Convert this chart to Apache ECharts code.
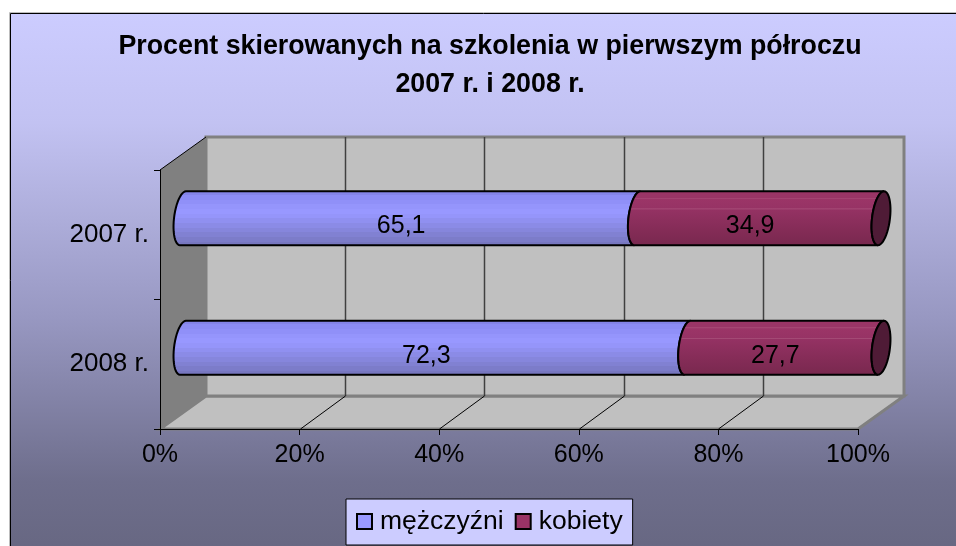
<!DOCTYPE html>
<html>
<head>
<meta charset="utf-8">
<title>Procent skierowanych na szkolenia</title>
<script src="https://cdn.jsdelivr.net/npm/echarts@6/dist/echarts.min.js"></script>
<style>
html, body { margin: 0; padding: 0; background: #fff; }
#chart { width: 956px; height: 546px; }
</style>
</head>
<body>
<div id="chart"></div>
<script>
const titleText = 'Procent skierowanych na szkolenia w pierwszym półroczu\n2007 r. i 2008 r.';
const categories = ['2007 r.', '2008 r.'];
const menName = 'mężczyźni';
const womenName = 'kobiety';
const menValues = [65.1, 72.3];
const womenValues = [34.9, 27.7];
const percentTicks = [0, 20, 40, 60, 80, 100];

// fake 3d box, the depth of the chart in pixels
const depthX = 46;
const depthY = -33;
const font = '"Liberation Sans", Arial, sans-serif';

function vertical(colorStops) {
    return { type: 'linear', x: 0, y: 0, x2: 0, y2: 1, colorStops: colorStops };
}

function bandStops(colors) {
    const stops = [];
    colors.forEach((c, i) => {
        stops.push({ offset: i / colors.length, color: c });
        stops.push({ offset: (i + 1) / colors.length, color: c });
    });
    return vertical(stops);
}

const menFill = bandStops(['#8484e8', '#8c8cf4', '#9090f8', '#9595fc', '#9898ff', '#9595fa', '#9090f0', '#8b8be6', '#8686dc', '#8181d2', '#7c7cc9', '#7777c0']);
const womenFill = vertical([
    { offset: 0, color: '#9a3566' },
    { offset: 0.13, color: '#9a3566' },
    { offset: 0.14, color: '#a84a76' },
    { offset: 0.16, color: '#9b3567' },
    { offset: 0.32, color: '#973365' },
    { offset: 0.33, color: '#a8507a' },
    { offset: 0.35, color: '#943263' },
    { offset: 0.65, color: '#872d59' },
    { offset: 1, color: '#78284e' }
]);
const capFill = '#4f1b36';

// tilted ellipse, half = -1 for the left side, 1 for the right side
function capPoints(cx, cy, ry, half) {
    const points = [];
    const rx = 9;
    const skew = -3;
    for (let i = 0; i <= 24; i++) {
        const t = half < 0 ? Math.PI * 1.5 - Math.PI * i / 24 : -Math.PI / 2 + Math.PI * i / 24;
        points.push([cx + rx * Math.cos(t) + skew * Math.sin(t), cy + ry * Math.sin(t)]);
    }
    return points;
}

function renderSegment(hasCap) {
    return function (params, api) {
        const start = api.coord([api.value(0), api.value(1)]);
        const end = api.coord([api.value(2), api.value(1)]);
        const ry = api.size([0, 1])[1] * 0.208;
        const x0 = start[0] + depthX / 2;
        const x1 = end[0] + depthX / 2;
        const cy = start[1] + depthY / 2;
        // left side of the start, then left side of the end walked backwards
        const points = capPoints(x0, cy, ry, -1).concat(capPoints(x1, cy, ry, -1).reverse());
        const children = [{
            type: 'polygon',
            shape: { points: points },
            style: { fill: hasCap ? womenFill : menFill, stroke: '#000', lineWidth: 2 }
        }];
        if (hasCap) {
            children.push({
                type: 'polygon',
                shape: { points: capPoints(x1, cy, ry, -1).concat(capPoints(x1, cy, ry, 1).reverse()) },
                style: { fill: capFill, stroke: '#000', lineWidth: 2 }
            });
        }
        children.push({
            type: 'text',
            x: (x0 + x1) / 2 - 9,
            y: cy + 8,
            style: {
                text: String(api.value(3)).replace('.', ','),
                fill: '#000',
                font: '25px ' + font,
                align: 'center',
                verticalAlign: 'middle'
            }
        });
        return { type: 'group', children: children };
    };
}

function renderBox(params, api) {
    const sys = params.coordSys;
    const left = sys.x, right = sys.x + sys.width;
    const top = sys.y, bottom = sys.y + sys.height;
    const children = [
        {
            type: 'polygon',
            shape: { points: [[left, top], [left + depthX, top + depthY], [left + depthX, bottom + depthY], [left, bottom]] },
            style: { fill: '#808080' }
        },
        {
            type: 'polygon',
            shape: { points: [[left, bottom], [left + depthX, bottom + depthY], [right + depthX, bottom + depthY], [right, bottom]] },
            style: { fill: '#c0c0c0', stroke: '#808080', lineWidth: 3 }
        },
        {
            type: 'rect',
            shape: { x: left + depthX, y: top + depthY, width: sys.width, height: sys.height },
            style: { fill: '#c0c0c0', stroke: '#808080', lineWidth: 3 }
        },
        {
            type: 'line',
            shape: { x1: left, y1: top, x2: left + depthX, y2: top + depthY },
            style: { stroke: '#000', lineWidth: 1 }
        }
    ];
    percentTicks.slice(1, -1).forEach(tick => {
        const x = Math.round(api.coord([tick, 0])[0]) + 0.5;
        children.push({
            type: 'line',
            shape: { x1: x + depthX - 1, y1: top + depthY, x2: x + depthX - 1, y2: bottom + depthY },
            style: { stroke: '#404040', lineWidth: 1.5 }
        });
        children.push({
            type: 'line',
            shape: { x1: x, y1: bottom, x2: x + depthX - 1, y2: bottom + depthY },
            style: { stroke: '#000', lineWidth: 1 }
        });
    });
    return { type: 'group', children: children };
}

const chart = echarts.init(document.getElementById('chart'), null, { renderer: 'canvas' });

chart.setOption({
    animation: false,
    backgroundColor: '#fff',
    graphic: [
        {
            type: 'rect',
            z: -11,
            shape: { x: 9.5, y: 12.5, width: 960, height: 550 },
            style: { fill: '#fff', stroke: '#bdbdbd', lineWidth: 1 }
        },
        {
            type: 'rect',
            z: -10,
            shape: { x: 10.5, y: 13.5, width: 960, height: 550 },
            style: {
                fill: vertical([
                    { offset: 0, color: '#ccccff' },
                    { offset: 0.2, color: '#c2c2f2' },
                    { offset: 0.55, color: '#9898c2' },
                    { offset: 0.85, color: '#6e6e8c' },
                    { offset: 1, color: '#666680' }
                ]),
                stroke: '#000',
                lineWidth: 1
            }
        }
    ],
    title: {
        text: titleText,
        left: 485,
        top: 23,
        textAlign: 'center',
        textStyle: { fontFamily: font, fontSize: 26.8, fontWeight: 'bold', color: '#000', lineHeight: 38 }
    },
    legend: {
        data: [menName, womenName],
        left: 346,
        top: 499,
        padding: [9, 10, 10, 10],
        itemGap: 11,
        itemWidth: 15,
        itemHeight: 15,
        icon: 'rect',
        backgroundColor: '#ccccff',
        borderColor: '#000',
        borderWidth: 1,
        borderRadius: 0,
        textStyle: { fontFamily: font, fontSize: 26.5, color: '#000', padding: [0, 0, 0, 3] }
    },
    grid: { left: 160, top: 170, width: 698, height: 259, containLabel: false },
    xAxis: {
        type: 'value',
        min: 0,
        max: 100,
        interval: 20,
        z: 5,
        splitLine: { show: false },
        axisLine: { show: true, lineStyle: { color: '#000', width: 1 } },
        axisTick: { show: true, length: 6, lineStyle: { color: '#000' } },
        axisLabel: { formatter: '{value}%', fontFamily: font, fontSize: 25, color: '#000', margin: 14 }
    },
    yAxis: {
        type: 'category',
        inverse: true,
        data: categories,
        z: 5,
        axisLine: { show: true, lineStyle: { color: '#000', width: 1 } },
        axisTick: { show: true, length: 6, lineStyle: { color: '#000' } },
        axisLabel: { fontFamily: font, fontSize: 26, color: '#000', margin: 11, padding: [3, 0, 0, 0] }
    },
    series: [
        {
            name: 'box',
            type: 'custom',
            z: 1,
            clip: false,
            silent: true,
            renderItem: renderBox,
            data: [[0, 0]]
        },
        {
            name: menName,
            type: 'custom',
            z: 2,
            clip: false,
            renderItem: renderSegment(false),
            itemStyle: { color: '#9999ff', borderColor: '#000', borderWidth: 2 },
            encode: { x: [0, 2], y: 1 },
            data: menValues.map((v, i) => [0, i, v, v])
        },
        {
            name: womenName,
            type: 'custom',
            z: 3,
            clip: false,
            renderItem: renderSegment(true),
            itemStyle: { color: '#993366', borderColor: '#000', borderWidth: 2 },
            encode: { x: [0, 2], y: 1 },
            data: womenValues.map((v, i) => [menValues[i], i, menValues[i] + v, v])
        }
    ]
});
</script>
</body>
</html>
